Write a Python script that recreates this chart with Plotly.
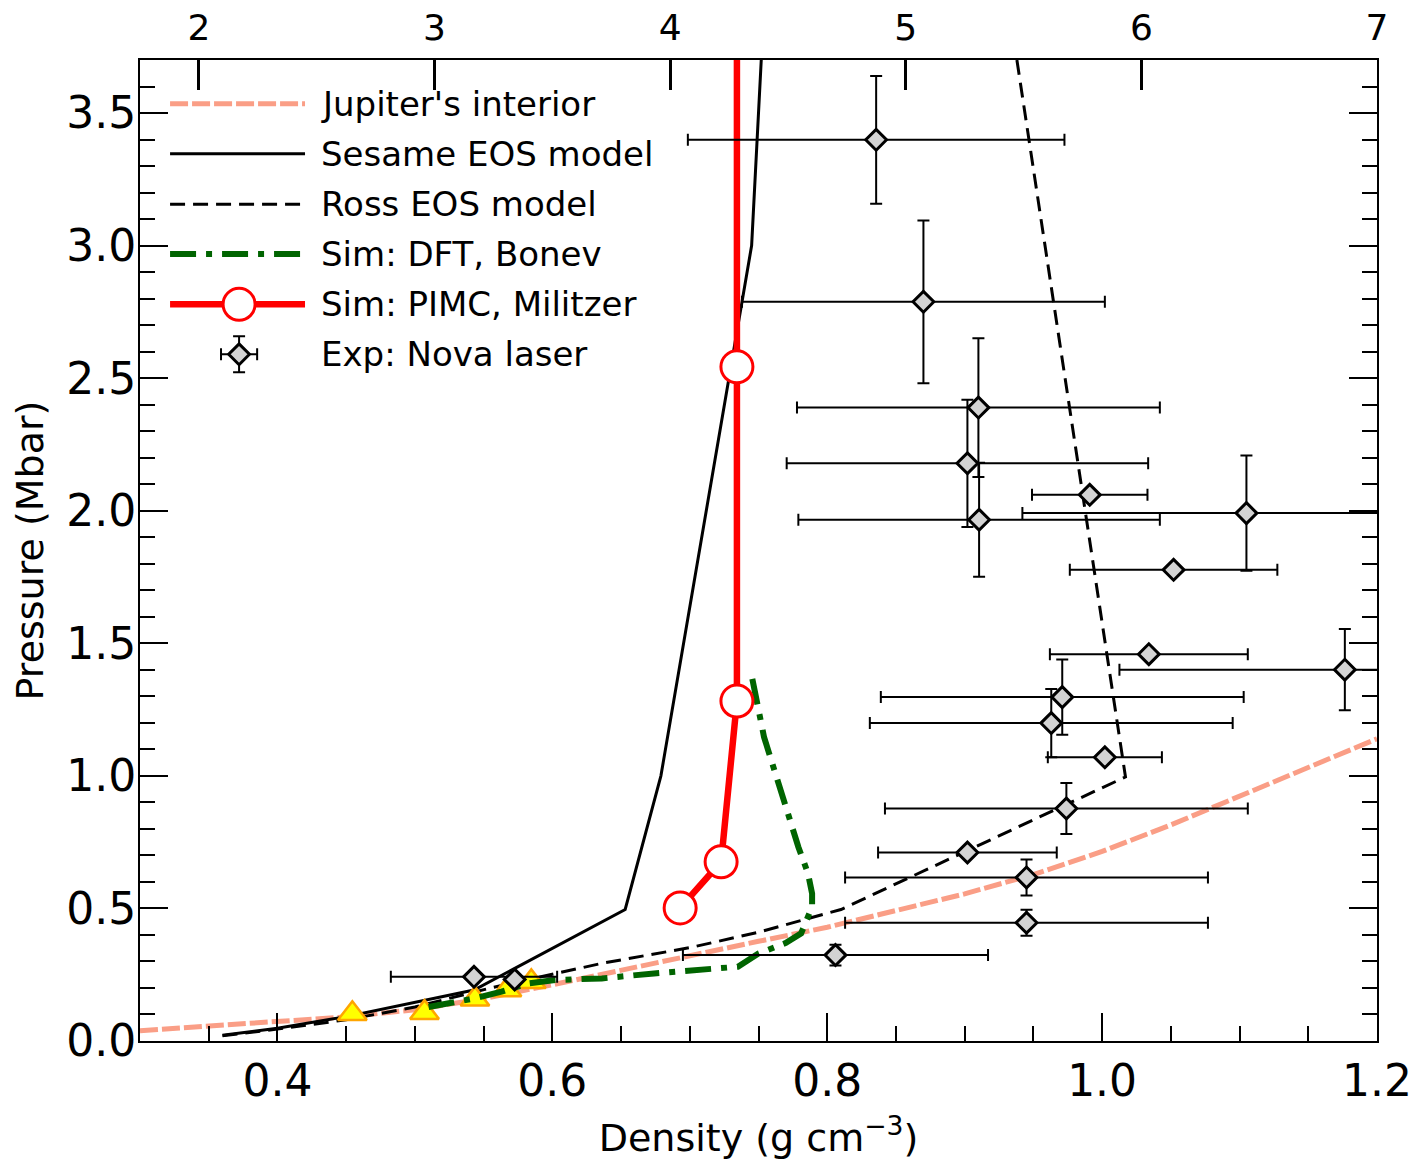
import plotly.graph_objects as go

# Initial (liquid) deuterium density, g/cc -> compression ratio on the top axis
rho0 = 1.2 / 7
compression_ticks = [2, 3, 4, 5, 6, 7]

# Jupiter's interior adiabat
jup_rho = [0.30, 0.35, 0.40, 0.45, 0.50, 0.55, 0.60, 0.65, 0.70, 0.75, 0.80,
           0.85, 0.90, 0.95, 1.00, 1.05, 1.10, 1.15, 1.20]
jup_p = [0.039, 0.055, 0.072, 0.091, 0.118, 0.160, 0.212, 0.268, 0.323, 0.376,
         0.429, 0.490, 0.555, 0.628, 0.715, 0.815, 0.925, 1.030, 1.140]

# Sesame EOS Hugoniot
sesame_rho = [0.36, 0.40, 0.45, 0.50, 0.543, 0.653, 0.679, 0.745, 0.752]
sesame_p = [0.022, 0.048, 0.092, 0.145, 0.192, 0.496, 1.0, 3.0, 3.7]

# Ross EOS Hugoniot
ross_rho = [0.36, 0.40, 0.45, 0.50, 0.555, 0.60, 0.636, 0.70, 0.75, 0.81, 1.017, 0.938]
ross_p = [0.020, 0.045, 0.080, 0.128, 0.200, 0.253, 0.293, 0.352, 0.410, 0.496, 0.996, 3.7]

# DFT-MD Hugoniot (Bonev)
dft_rho = [0.51, 0.5435, 0.563, 0.582, 0.602, 0.636, 0.674, 0.735, 0.75, 0.77,
           0.781, 0.789, 0.789, 0.786, 0.779, 0.77, 0.762, 0.754, 0.745]
dft_p = [0.128, 0.161, 0.186, 0.217, 0.230, 0.236, 0.255, 0.280, 0.330, 0.370,
         0.406, 0.506, 0.556, 0.632, 0.732, 0.883, 1.009, 1.147, 1.379]

# PIMC Hugoniot (Militzer)
pimc_rho = [0.693, 0.7228, 0.7343, 0.7343, 0.7343]
pimc_p = [0.502, 0.676, 1.282, 2.543, 4.0]

# Nova laser shock data
nova_rho = [0.8356, 0.870, 0.910, 0.902, 0.9105, 0.991, 1.105, 1.052, 1.034, 1.1766,
            0.971, 0.963, 1.002, 0.974, 0.902, 0.945, 0.945, 0.806, 0.543, 0.5726]
nova_p = [3.399, 2.788, 2.389, 2.179, 1.966, 2.060, 1.991, 1.777, 1.459, 1.4005,
          1.297, 1.199, 1.070, 0.877, 0.711, 0.617, 0.446, 0.324, 0.242, 0.232]
nova_drho = [0.137, 0.132, 0.132, 0.1315, 0.1315, 0.042, 0.163, 0.0755, 0.072, 0.164,
             0.132, 0.132, 0.0415, 0.132, 0.065, 0.132, 0.132, 0.111, 0.0605, None]
nova_dp = [0.241, 0.307, 0.262, 0.240, 0.215, None, 0.217, None, None, 0.153,
           0.142, 0.129, None, 0.096, None, 0.068, 0.049, 0.039, None, None]

# Low-pressure shock data (triangles)
tri_rho = [0.4545, 0.507, 0.5437, 0.567, 0.5847]
tri_p = [0.103, 0.107, 0.157, 0.192, 0.223]

FONT = "DejaVu Sans"
SALMON = "#fa9e86"
GREEN = "#006400"
RED = "#ff0000"
DIAMOND = dict(symbol="diamond", size=16, color="#d3d3d3",
               line=dict(color="black", width=3))

fig = go.Figure()

fig.add_trace(go.Scatter(x=jup_rho, y=jup_p, mode="lines",
                         line=dict(color=SALMON, width=5, dash="18px,4px"),
                         showlegend=False))
fig.add_trace(go.Scatter(x=sesame_rho, y=sesame_p, mode="lines",
                         line=dict(color="black", width=3), showlegend=False))
fig.add_trace(go.Scatter(x=ross_rho, y=ross_p, mode="lines",
                         line=dict(color="black", width=3, dash="15px,8px"),
                         showlegend=False))
fig.add_trace(go.Scatter(x=tri_rho, y=tri_p, mode="markers",
                         marker=dict(symbol="triangle-up", size=25, color="#ffff00",
                                     line=dict(color="#ffa500", width=2.5)),
                         showlegend=False))
fig.add_trace(go.Scatter(x=dft_rho, y=dft_p, mode="lines",
                         line=dict(color=GREEN, width=6, dash="26px,10px,6px,10px"),
                         showlegend=False))
fig.add_trace(go.Scatter(x=pimc_rho, y=pimc_p, mode="lines+markers",
                         line=dict(color=RED, width=6.5),
                         marker=dict(symbol="circle", size=32, color="white",
                                     line=dict(color=RED, width=3)),
                         showlegend=False))
# Nova points sit on the top (compression) axis, which shares the density range
fig.add_trace(go.Scatter(x=nova_rho, y=nova_p, mode="markers", marker=DIAMOND,
                         error_x=dict(type="data", array=nova_drho, color="black",
                                      thickness=2, width=6),
                         error_y=dict(type="data", array=nova_dp, color="black",
                                      thickness=2, width=6),
                         xaxis="x2", yaxis="y", showlegend=False))

# Legend drawn on an overlay frame spanning the plot area (0..1 in both directions)
leg_rows = [0.9555, 0.9045, 0.853, 0.8022, 0.751, 0.700]
leg_labels = ["Jupiter's interior", "Sesame EOS model", "Ross EOS model",
              "Sim: DFT, Bonev", "Sim: PIMC, Militzer", "Exp: Nova laser"]
lx0, lx1, lxm = 0.0243, 0.1334, 0.0801

leg_styles = [
    dict(color=SALMON, width=5, dash="18px,4px"),
    dict(color="black", width=3),
    dict(color="black", width=3, dash="15px,8px"),
    dict(color=GREEN, width=6, dash="26px,10px,6px,10px"),
    dict(color=RED, width=6.5),
]
for row, style in zip(leg_rows[:5], leg_styles):
    fig.add_trace(go.Scatter(x=[lx0, lx1], y=[row, row], mode="lines", line=style,
                             xaxis="x3", yaxis="y3", showlegend=False))
fig.add_trace(go.Scatter(x=[lxm], y=[leg_rows[4]], mode="markers",
                         marker=dict(symbol="circle", size=32, color="white",
                                     line=dict(color=RED, width=3)),
                         xaxis="x3", yaxis="y3", showlegend=False))
fig.add_trace(go.Scatter(x=[lxm], y=[leg_rows[5]], mode="markers", marker=DIAMOND,
                         error_x=dict(type="constant", value=0.0146, color="black",
                                      thickness=2, width=6),
                         error_y=dict(type="constant", value=0.0183, color="black",
                                      thickness=2, width=6),
                         xaxis="x3", yaxis="y3", showlegend=False))

annotations = []
for row, text in zip(leg_rows, leg_labels):
    annotations.append(dict(x=0.1451, y=row, xref="paper", yref="paper", text=text,
                            showarrow=False, xanchor="left", yanchor="middle",
                            font=dict(family=FONT, size=34, color="black")))

axis_common = dict(showgrid=False, zeroline=False, showline=True, linecolor="black",
                   linewidth=2, ticks="inside", tickcolor="black", automargin=False)

fig.update_layout(
    width=1420, height=1160,
    margin=dict(l=140, r=43, t=60, b=119),
    paper_bgcolor="white", plot_bgcolor="white",
    font=dict(family=FONT, color="black"),
    showlegend=False,
    annotations=annotations,
    xaxis=dict(
        **axis_common, mirror=True, range=[0.3, 1.2],
        tickvals=[0.4, 0.6, 0.8, 1.0, 1.2], ticktext=["0.4", "0.6", "0.8", "1.0", "1.2"],
        ticklen=28, tickwidth=1.5, tickfont=dict(size=44),
        minor=dict(ticks="inside", dtick=0.05, tick0=0.3, ticklen=15, tickwidth=1.5,
                   tickcolor="black"),
        title=dict(text="Density (g cm<sup>−3</sup>)", font=dict(size=38), standoff=20),
    ),
    yaxis=dict(
        **axis_common, mirror="ticks", range=[0, 3.7],
        tickvals=[0, 0.5, 1.0, 1.5, 2.0, 2.5, 3.0, 3.5],
        ticktext=["0.0", "0.5", "1.0", "1.5", "2.0", "2.5", "3.0", "3.5"],
        ticklen=28, tickwidth=1.5, tickfont=dict(size=44), ticklabelstandoff=-7,
        minor=dict(ticks="inside", dtick=0.1, tick0=0, ticklen=15, tickwidth=1.5,
                   tickcolor="black"),
        title=dict(text="Pressure (Mbar)", font=dict(size=38), standoff=11),
    ),
    xaxis2=dict(
        **axis_common, overlaying="x", side="top", anchor="y", range=[0.3, 1.2],
        tickvals=[rho0 * n for n in compression_ticks],
        ticktext=[str(n) for n in compression_ticks],
        ticklen=30, tickwidth=3, tickfont=dict(size=36), ticklabelstandoff=4,
    ),
    xaxis3=dict(overlaying="x", anchor="y3", range=[0, 1], visible=False, fixedrange=True),
    yaxis3=dict(overlaying="y", anchor="x3", range=[0, 1], visible=False, fixedrange=True),
)

fig.write_html("out.html")
